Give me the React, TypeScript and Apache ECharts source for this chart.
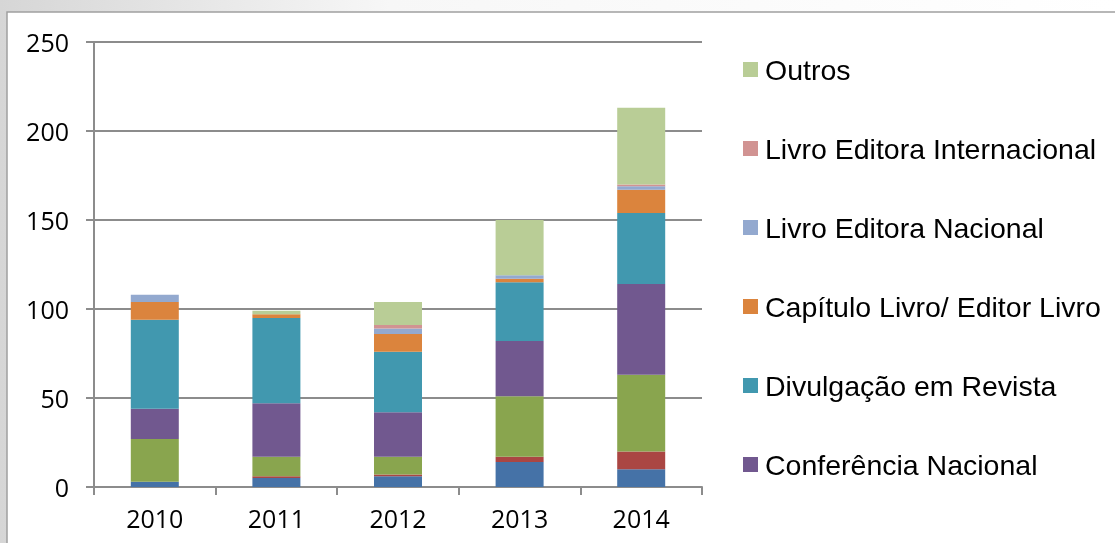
import React, { useEffect, useRef } from "react";
import * as echarts from "echarts";

const years = ["2010", "2011", "2012", "2013", "2014"];

const revistaInternacional = [3, 5, 6, 14, 10];
const revistaNacional = [0, 1, 1, 3, 10];
const conferenciaInternacional = [24, 11, 10, 34, 43];
const conferenciaNacional = [17, 30, 25, 31, 51];
const divulgacaoRevista = [50, 48, 34, 33, 40];
const capituloLivro = [10, 2, 10, 2, 13];
const livroNacional = [4, 0, 3, 2, 2];
const livroInternacional = [0, 0, 2, 0, 1];
const outros = [0, 2, 13, 31, 43];

const yTicks = { min: 0, max: 250, interval: 50 };

const seriesDefs = [
  { name: "Revista Internacional", data: revistaInternacional, color: "#4572A7" },
  { name: "Revista Nacional", data: revistaNacional, color: "#AA4643" },
  { name: "Conferência Internacional", data: conferenciaInternacional, color: "#89A54E" },
  { name: "Conferência Nacional", data: conferenciaNacional, color: "#71588F" },
  { name: "Divulgação em Revista", data: divulgacaoRevista, color: "#4198AF" },
  { name: "Capítulo Livro/ Editor Livro", data: capituloLivro, color: "#DB843D" },
  { name: "Livro Editora Nacional", data: livroNacional, color: "#93A9CF" },
  { name: "Livro Editora Internacional", data: livroInternacional, color: "#D19392" },
  { name: "Outros", data: outros, color: "#B9CD96" },
];

const legendNames = [
  "Outros",
  "Livro Editora Internacional",
  "Livro Editora Nacional",
  "Capítulo Livro/ Editor Livro",
  "Divulgação em Revista",
  "Conferência Nacional",
];

export default function App() {
  const ref = useRef<HTMLDivElement>(null);
  useEffect(() => {
    if (!ref.current) return;
    const chart = echarts.init(ref.current, undefined, { renderer: "svg" });
    chart.setOption({
      animation: false,
      graphic: [
        {
          type: "rect",
          z: -100,
          silent: true,
          shape: { x: 0, y: 0, width: 1115, height: 543 },
          style: {
            fill: new echarts.graphic.LinearGradient(0, 0, 1, 0, [
              { offset: 0, color: "#d6d6d6" },
              { offset: 0.35, color: "#f7f7f7" },
              { offset: 1, color: "#ffffff" },
            ]),
          },
        },
        {
          type: "rect",
          z: -99,
          silent: true,
          shape: { x: 7, y: 12, width: 1130, height: 560 },
          style: { fill: "#ffffff", stroke: "#a0a0a0", lineWidth: 1.5 },
        },
      ],
      grid: { left: 94, right: 413, top: 42, bottom: 56, containLabel: false },
      legend: {
        orient: "vertical",
        left: 738,
        top: 50,
        itemWidth: 15,
        itemHeight: 15,
        itemGap: 50,
        icon: "rect",
        data: legendNames,
        textStyle: {
          fontFamily: "Liberation Sans",
          fontSize: 28.5,
          lineHeight: 28,
          color: "#000",
          padding: [0, 0, 0, 2],
        },
      },
      xAxis: {
        type: "category",
        data: years,
        axisLine: { lineStyle: { color: "#8c8c8c", width: 2 } },
        axisTick: { show: true, length: 8, lineStyle: { color: "#8c8c8c", width: 2 } },
        axisLabel: {
          fontFamily: "Open Sans",
          fontSize: 25,
          color: "#000",
          margin: 18,
        },
      },
      yAxis: {
        type: "value",
        min: yTicks.min,
        max: yTicks.max,
        interval: yTicks.interval,
        axisLine: { show: true, lineStyle: { color: "#8c8c8c", width: 2 } },
        axisTick: { show: true, inside: false, length: 8, lineStyle: { color: "#8c8c8c", width: 2 } },
        splitLine: { lineStyle: { color: "#8c8c8c", width: 2 } },
        axisLabel: {
          fontFamily: "Open Sans",
          fontSize: 25,
          color: "#000",
          margin: 25,
        },
      },
      series: seriesDefs.map((s) => ({
        name: s.name,
        type: "bar",
        stack: "total",
        data: s.data,
        barWidth: 48,
        itemStyle: { color: s.color },
      })),
    });
    return () => chart.dispose();
  }, []);
  return (
    <div
      ref={ref}
      style={{ position: "fixed", left: 0, top: 0, width: 1115, height: 543 }}
    />
  );
}
